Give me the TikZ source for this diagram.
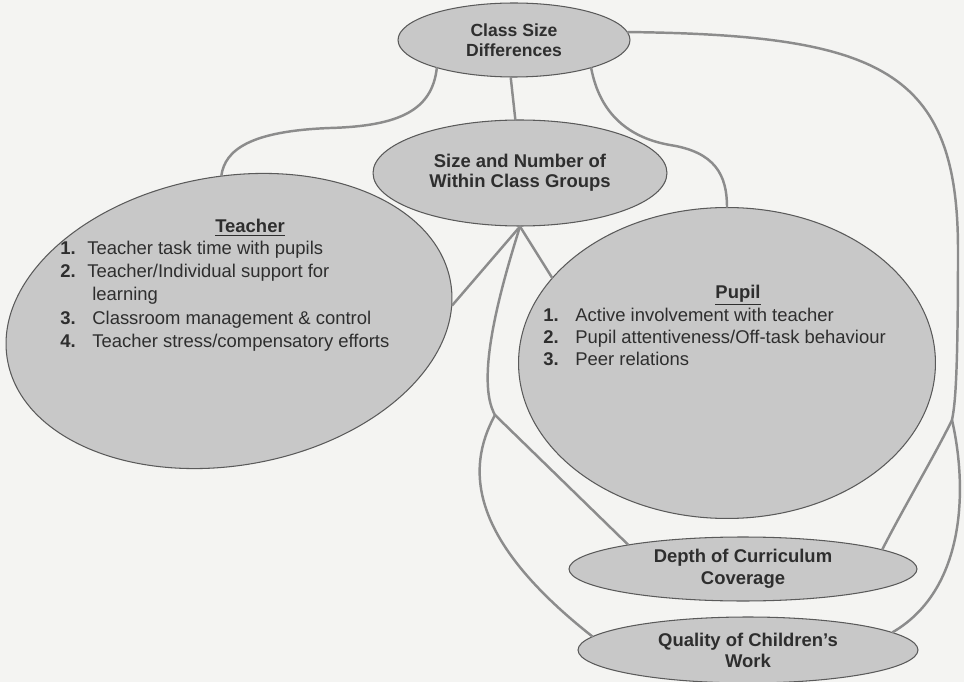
\documentclass[tikz,border=0pt]{standalone}
\usepackage{fontspec}
\setmainfont{Liberation Sans}
\usetikzlibrary{shapes.geometric}
\definecolor{paper}{HTML}{F4F4F2}
\definecolor{bubblegrey}{HTML}{C8C8C8}
\definecolor{rimgrey}{HTML}{5A5A5A}
\definecolor{linkgrey}{HTML}{8C8C8C}
\definecolor{inkgrey}{HTML}{2E2E2E}
\newcommand{\numA}[1]{\makebox[0.54cm][l]{\textbf{#1}}}
\newcommand{\numB}[1]{\makebox[0.64cm][l]{\textbf{#1}}}

\begin{document}
\begin{tikzpicture}[
    x=0.02cm, y=-0.02cm,
    bubble/.style={ellipse, draw=rimgrey, line width=0.6pt, fill=bubblegrey,
                   inner sep=0pt, align=center, text=inkgrey,
                   font=\fontsize{10.5}{12}\selectfont\bfseries},
    listtext/.style={align=left, text=inkgrey, inner sep=0pt,
                     font=\fontsize{10.5}{13.3}\selectfont},
    headtext/.style={text=inkgrey, inner sep=0pt,
                     font=\fontsize{10.5}{12}\selectfont\bfseries},
    link/.style={draw=linkgrey, line width=1.4pt, line cap=round},
]
  \fill[paper] (0,0) rectangle (964,682);
  \useasboundingbox (0,0) rectangle (964,682);

  % ellipses
  \node[bubble, minimum width=4.64cm, minimum height=1.48cm,
        font=\fontsize{10}{11.4}\selectfont\bfseries] (csd) at (514,40) {Class Size\\Differences};
  \node[bubble, minimum width=5.88cm, minimum height=2.12cm,
        font=\fontsize{10.5}{11.4}\selectfont\bfseries] (san) at (520,173) {Size and Number of\\Within Class Groups};
  \node[bubble, minimum width=9.0cm, minimum height=5.78cm, rotate=10] (teacher) at (229,321) {};
  \node[bubble, minimum width=8.34cm, minimum height=6.22cm] (pupil) at (727,363) {};
  \node[bubble, minimum width=6.96cm, minimum height=1.28cm,
        font=\fontsize{10.5}{12.5}\selectfont\bfseries] (depth) at (743,569) {Depth of Curriculum\\Coverage};
  \node[bubble, minimum width=6.8cm, minimum height=1.32cm] (quality) at (748,650) {Quality of Children's\\Work};

  % texts in the two large ellipses
  \node[headtext] (teacherHead) at (250,228) {\underline{Teacher}};
  \node[listtext, anchor=west] (teacherList) at (60,296) {%
    \numA{1.}Teacher task time with pupils\\
    \numA{2.}Teacher/Individual support for\\
    \hspace*{0.64cm}learning\\
    \numB{3.}Classroom management \& control\\
    \numB{4.}Teacher stress/compensatory efforts};
  \node[headtext] (pupilHead) at (738,295) {\underline{Pupil}};
  \node[listtext, anchor=west, font=\fontsize{10.5}{12.5}\selectfont] (pupilList) at (543,337) {%
    \numB{1.}Active involvement with teacher\\
    \numB{2.}Pupil attentiveness/Off-task behaviour\\
    \numB{3.}Peer relations};

  % junctions
  \coordinate (jL) at (495,415);
  \coordinate (jR) at (952,420);

  % links
  \draw[link] (csd.200) .. controls (432,110) and (400,126) .. (330,128)
                        .. controls (250,131) and (225,150) .. (teacher.83);
  \draw[link] (csd.265) -- (san.95);
  \draw[link] (csd.340) .. controls (600,115) and (630,138) .. (670,145)
                        .. controls (715,152) and (727,175) .. (pupil.north);
  \draw[link] (csd.4) .. controls (880,35) and (958,70) .. (958,250)
                      .. controls (958,380) and (955,405) .. (jR);
  \draw[link] (jR) .. controls (935,455) and (905,505) .. (depth.8);
  \draw[link] (jR) .. controls (968,490) and (965,590) .. (quality.7);
  \draw[link] (san.south) -- (teacher.-6);
  \draw[link] (san.south) -- (pupil.154);
  \draw[link] (san.south) .. controls (500,290) and (475,380) .. (jL);
  \draw[link] (jL) -- (depth.168);
  \draw[link] (jL) .. controls (465,470) and (470,540) .. (quality.175);
\end{tikzpicture}
\end{document}
